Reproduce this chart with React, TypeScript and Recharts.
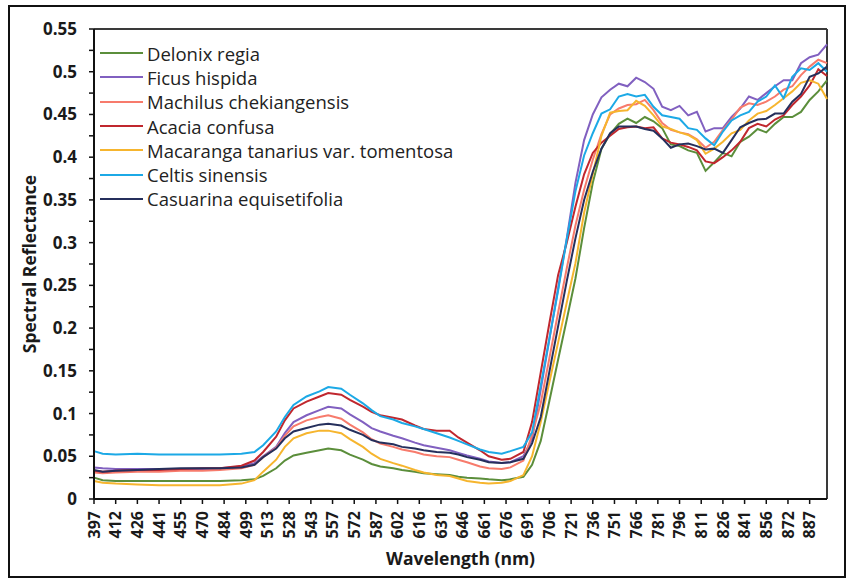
import { Legend, Line, LineChart, ReferenceLine, XAxis, YAxis } from 'recharts';

const FONT = '"Open Sans", "DejaVu Sans", sans-serif';

// band index of each sample (the sensor has ~170 bands from 397 to ~899 nm)
const bands = [
  0, 2, 5, 10, 15, 20, 25, 29,
  34, 37, 39, 42, 44, 46, 49, 52, 54, 57, 59, 62, 64, 66, 69, 71, 74, 76, 79, 82, 84, 86, 89, 91, 94, 96,
  99, 101, 103, 105, 107, 109, 111, 113, 115, 117,
  119, 121, 123, 125, 127, 129, 131, 133, 135, 137, 139, 141, 143, 145, 147, 149, 151, 153, 155, 157, 159, 161, 163, 165, 167, 169,
];

// one label every 5 bands
const xTickLabels = [
  '397', '412', '426', '441', '455', '470', '484', '499', '513', '528', '543', '557', '572', '587', '602', '616', '631',
  '646', '661', '676', '691', '706', '721', '736', '751', '766', '781', '796', '811', '826', '841', '856', '872', '887',
];

const yTicks = [0, 0.025, 0.05, 0.075, 0.1, 0.125, 0.15, 0.175, 0.2, 0.225, 0.25, 0.275, 0.3, 0.325, 0.35, 0.375, 0.4, 0.425, 0.45, 0.475, 0.5, 0.525, 0.55];
const yMajorTicks = [0, 0.05, 0.1, 0.15, 0.2, 0.25, 0.3, 0.35, 0.4, 0.45, 0.5, 0.55];

const delonix = [
  0.025, 0.022, 0.021, 0.021, 0.021, 0.021, 0.021, 0.021,
  0.022, 0.023, 0.027, 0.036, 0.045, 0.051, 0.054, 0.057, 0.059, 0.057, 0.052, 0.046, 0.041, 0.038, 0.036, 0.034, 0.032, 0.03, 0.029, 0.028, 0.026, 0.025, 0.024, 0.023, 0.022, 0.023,
  0.026, 0.04, 0.068, 0.115, 0.163, 0.21, 0.258, 0.317, 0.37, 0.41,
  0.427, 0.439, 0.445, 0.44, 0.447, 0.442, 0.434, 0.415, 0.413, 0.408, 0.405, 0.384, 0.394, 0.405, 0.401, 0.418, 0.424, 0.433, 0.429, 0.439, 0.447, 0.447, 0.453, 0.467, 0.477, 0.49,
];
const ficus = [
  0.037, 0.036, 0.035, 0.035, 0.035, 0.035, 0.035, 0.036,
  0.038, 0.042, 0.05, 0.061, 0.077, 0.09, 0.098, 0.104, 0.108, 0.106, 0.099, 0.09, 0.083, 0.079, 0.074, 0.071, 0.066, 0.063, 0.06, 0.057, 0.054, 0.051, 0.047, 0.044, 0.042, 0.043,
  0.05, 0.07, 0.128, 0.187, 0.246, 0.305, 0.37, 0.42, 0.45, 0.47,
  0.479, 0.486, 0.483, 0.493, 0.488, 0.48, 0.459, 0.455, 0.46, 0.449, 0.453, 0.43, 0.434, 0.434, 0.447, 0.457, 0.471, 0.467, 0.475, 0.483, 0.49, 0.49, 0.51, 0.517, 0.52, 0.532,
];
const machilus = [
  0.031, 0.03, 0.031, 0.032, 0.032, 0.033, 0.033, 0.034,
  0.036, 0.04, 0.049, 0.06, 0.074, 0.085, 0.092, 0.096, 0.098, 0.094, 0.087, 0.078, 0.07, 0.065, 0.061, 0.058, 0.055, 0.052, 0.05, 0.049, 0.046, 0.043, 0.038, 0.036, 0.035, 0.037,
  0.045, 0.075, 0.112, 0.165, 0.218, 0.27, 0.32, 0.362, 0.397, 0.427,
  0.45, 0.457, 0.461, 0.462, 0.467, 0.455, 0.44, 0.432, 0.429, 0.427, 0.421, 0.411, 0.418, 0.432, 0.444, 0.458, 0.463, 0.461, 0.465, 0.471, 0.479, 0.483, 0.496, 0.506, 0.514, 0.51,
];
const acacia = [
  0.033, 0.032, 0.033, 0.034, 0.034, 0.035, 0.036, 0.036,
  0.039, 0.045, 0.055, 0.073, 0.092, 0.106, 0.114, 0.12, 0.124, 0.122, 0.116, 0.108, 0.102, 0.098, 0.095, 0.093, 0.086, 0.082, 0.08, 0.08, 0.072, 0.066, 0.057, 0.05, 0.046, 0.047,
  0.055, 0.09, 0.148, 0.206, 0.262, 0.3, 0.342, 0.38, 0.405, 0.417,
  0.425, 0.433, 0.435, 0.436, 0.434, 0.435, 0.422, 0.417, 0.415, 0.412, 0.408, 0.395, 0.393, 0.4, 0.408, 0.418, 0.434, 0.439, 0.436, 0.444, 0.449, 0.461, 0.471, 0.484, 0.503, 0.495,
];
const macaranga = [
  0.021, 0.019, 0.018, 0.017, 0.016, 0.016, 0.016, 0.016,
  0.018, 0.022, 0.032, 0.046, 0.061, 0.071, 0.077, 0.08, 0.08, 0.077, 0.07, 0.061, 0.053, 0.047, 0.042, 0.039, 0.034, 0.031, 0.028, 0.027, 0.024, 0.021, 0.019, 0.018, 0.019, 0.021,
  0.028, 0.05, 0.09, 0.137, 0.183, 0.23, 0.276, 0.335, 0.38, 0.425,
  0.452, 0.454, 0.455, 0.466, 0.46, 0.449, 0.436, 0.433, 0.429, 0.426, 0.42, 0.404, 0.41, 0.418, 0.428, 0.432, 0.443, 0.451, 0.454, 0.461, 0.469, 0.477, 0.487, 0.49, 0.486, 0.468,
];
const celtis = [
  0.056, 0.053, 0.052, 0.053, 0.052, 0.052, 0.052, 0.052,
  0.053, 0.055, 0.063, 0.079, 0.096, 0.11, 0.12, 0.126, 0.131, 0.129, 0.122, 0.112, 0.104, 0.097, 0.093, 0.089, 0.085, 0.082, 0.077, 0.072, 0.068, 0.064, 0.058, 0.055, 0.053, 0.056,
  0.061, 0.078, 0.133, 0.188, 0.244, 0.304, 0.36, 0.402, 0.428, 0.451,
  0.456, 0.471, 0.474, 0.471, 0.473, 0.459, 0.449, 0.447, 0.445, 0.434, 0.432, 0.422, 0.414, 0.43, 0.443, 0.449, 0.453, 0.465, 0.471, 0.484, 0.469, 0.494, 0.504, 0.502, 0.51, 0.5,
];
const casuarina = [
  0.034, 0.032, 0.033, 0.034, 0.035, 0.036, 0.036, 0.036,
  0.037, 0.04, 0.049, 0.059, 0.071, 0.079, 0.083, 0.087, 0.088, 0.086, 0.081, 0.075, 0.069, 0.066, 0.064, 0.061, 0.059, 0.057, 0.055, 0.054, 0.052, 0.049, 0.046, 0.043, 0.042, 0.043,
  0.047, 0.065, 0.096, 0.149, 0.202, 0.255, 0.305, 0.35, 0.383, 0.41,
  0.428, 0.436, 0.436, 0.436, 0.433, 0.431, 0.422, 0.411, 0.415, 0.416, 0.413, 0.409, 0.41, 0.405, 0.42, 0.435, 0.44, 0.444, 0.445, 0.451, 0.451, 0.465, 0.474, 0.494, 0.498, 0.506,
];

const series = [
  { key: 'delonix', name: 'Delonix regia', color: '#5b8e3b', values: delonix },
  { key: 'ficus', name: 'Ficus hispida', color: '#8160c0', values: ficus },
  { key: 'machilus', name: 'Machilus chekiangensis', color: '#f77b6c', values: machilus },
  { key: 'acacia', name: 'Acacia confusa', color: '#c0272e', values: acacia },
  { key: 'macaranga', name: 'Macaranga tanarius var. tomentosa', color: '#f6b52e', values: macaranga },
  { key: 'celtis', name: 'Celtis sinensis', color: '#1ca9e6', values: celtis },
  { key: 'casuarina', name: 'Casuarina equisetifolia', color: '#252f5c', values: casuarina },
];

const data = bands.map((band, i) => {
  const row: Record<string, number> = { band };
  series.forEach((s) => {
    row[s.key] = s.values[i];
  });
  return row;
});

const X_MAX = 169;
const Y_MAX = 0.55;
const PLOT_W = 733;
const PLOT_H = 470;
const bandTicks = xTickLabels.map((_, i) => i * 5);
// grid: vertical every 10 bands, horizontal major every 0.05, minor lines in between
const gridBands = bandTicks.filter((b) => b > 0 && b % 10 === 0);
const minorY = yTicks.filter((v) => !yMajorTicks.includes(v));
const majorY = yMajorTicks.filter((v) => v > 0 && v < Y_MAX);

function XTick(props: any) {
  const { x, y, payload } = props;
  const label = xTickLabels[bandTicks.indexOf(payload.value)];
  const ty = y + 5;
  return (
    <text
      x={x}
      y={ty}
      dy="0.36em"
      transform={`rotate(-90, ${x}, ${ty})`}
      textAnchor="end"
      fontFamily={FONT}
      fontSize={16}
      fontWeight={700}
      fill="#1a1a1a"
    >
      {label}
    </text>
  );
}

function LegendBox() {
  return (
    <div style={{ fontFamily: FONT, fontSize: 18.5, color: '#222' }}>
      {series.map((s) => (
        <div key={s.key} style={{ display: 'flex', alignItems: 'center', height: 24.3 }}>
          <span style={{ display: 'inline-block', width: 43, height: 2, background: s.color, marginRight: 4 }} />
          <span style={{ whiteSpace: 'nowrap' }}>{s.name}</span>
        </div>
      ))}
    </div>
  );
}

export default function App() {
  return (
    <div style={{ position: 'absolute', left: 0, top: 0, width: 849, height: 579, background: '#fff' }}>
      <div
        style={{
          position: 'absolute',
          left: 8,
          top: 5,
          width: 838,
          height: 573,
          border: '2px solid #111',
          boxSizing: 'border-box',
        }}
      />
      <div style={{ position: 'absolute', left: 0, top: 0 }}>
        <LineChart
          width={849}
          height={579}
          data={data}
          margin={{ top: 29, right: 22, bottom: 30, left: 34 }}
          style={{ fontFamily: FONT }}
        >
          {/* grid drawn as inward tick lines of hidden axes */}
          <YAxis
            yAxisId="minorGrid"
            orientation="right"
            type="number"
            domain={[0, Y_MAX]}
            ticks={minorY}
            interval={0}
            width={0}
            tick={false}
            axisLine={false}
            tickSize={-PLOT_W}
            tickLine={{ stroke: '#e6e6e6', strokeWidth: 1.5 }}
          />
          <YAxis
            yAxisId="majorGrid"
            orientation="right"
            type="number"
            domain={[0, Y_MAX]}
            ticks={majorY}
            interval={0}
            width={0}
            tick={false}
            axisLine={false}
            tickSize={-PLOT_W}
            tickLine={{ stroke: '#d3d3d3', strokeWidth: 2 }}
          />
          <XAxis
            xAxisId="vGrid"
            orientation="top"
            dataKey="band"
            type="number"
            domain={[0, X_MAX]}
            ticks={gridBands}
            interval={0}
            height={0}
            tick={false}
            axisLine={false}
            tickSize={-PLOT_H}
            tickLine={{ stroke: '#d3d3d3', strokeWidth: 2 }}
          />
          <XAxis
            dataKey="band"
            type="number"
            domain={[0, X_MAX]}
            ticks={bandTicks}
            interval={0}
            height={50}
            tick={<XTick />}
            tickSize={5}
            tickLine={{ stroke: '#111', strokeWidth: 1.5 }}
            axisLine={{ stroke: '#111', strokeWidth: 2 }}
            label={{
              value: 'Wavelength (nm)',
              position: 'bottom',
              offset: 4,
              style: { fontFamily: FONT, fontSize: 17.5, fontWeight: 700, fill: '#1a1a1a' },
            }}
          />
          <YAxis
            type="number"
            domain={[0, Y_MAX]}
            ticks={yTicks}
            interval={0}
            width={60}
            tickSize={5}
            tickMargin={12}
            tickFormatter={(v: number) => (yMajorTicks.includes(v) ? String(v) : '')}
            tick={{ fontFamily: FONT, fontSize: 17, fontWeight: 700, fill: '#1a1a1a' }}
            tickLine={{ stroke: '#111', strokeWidth: 1.5 }}
            axisLine={{ stroke: '#111', strokeWidth: 2 }}
            label={{
              value: 'Spectral Reflectance',
              angle: -90,
              position: 'left',
              offset: 4,
              style: { fontFamily: FONT, fontSize: 17.5, fontWeight: 700, fill: '#1a1a1a', textAnchor: 'middle' },
            }}
          />
          <ReferenceLine x={X_MAX} stroke="#3a3a3a" strokeWidth={2} />
          <ReferenceLine y={Y_MAX} stroke="#3a3a3a" strokeWidth={2} />
          <Legend
            layout="vertical"
            align="center"
            verticalAlign="middle"
            wrapperStyle={{ left: 100, top: 41, width: 'auto' }}
            content={<LegendBox />}
          />
          {series.map((s) => (
            <Line
              key={s.key}
              type="linear"
              dataKey={s.key}
              name={s.name}
              stroke={s.color}
              strokeWidth={2}
              dot={false}
              activeDot={false}
              isAnimationActive={false}
            />
          ))}
        </LineChart>
      </div>
    </div>
  );
}
